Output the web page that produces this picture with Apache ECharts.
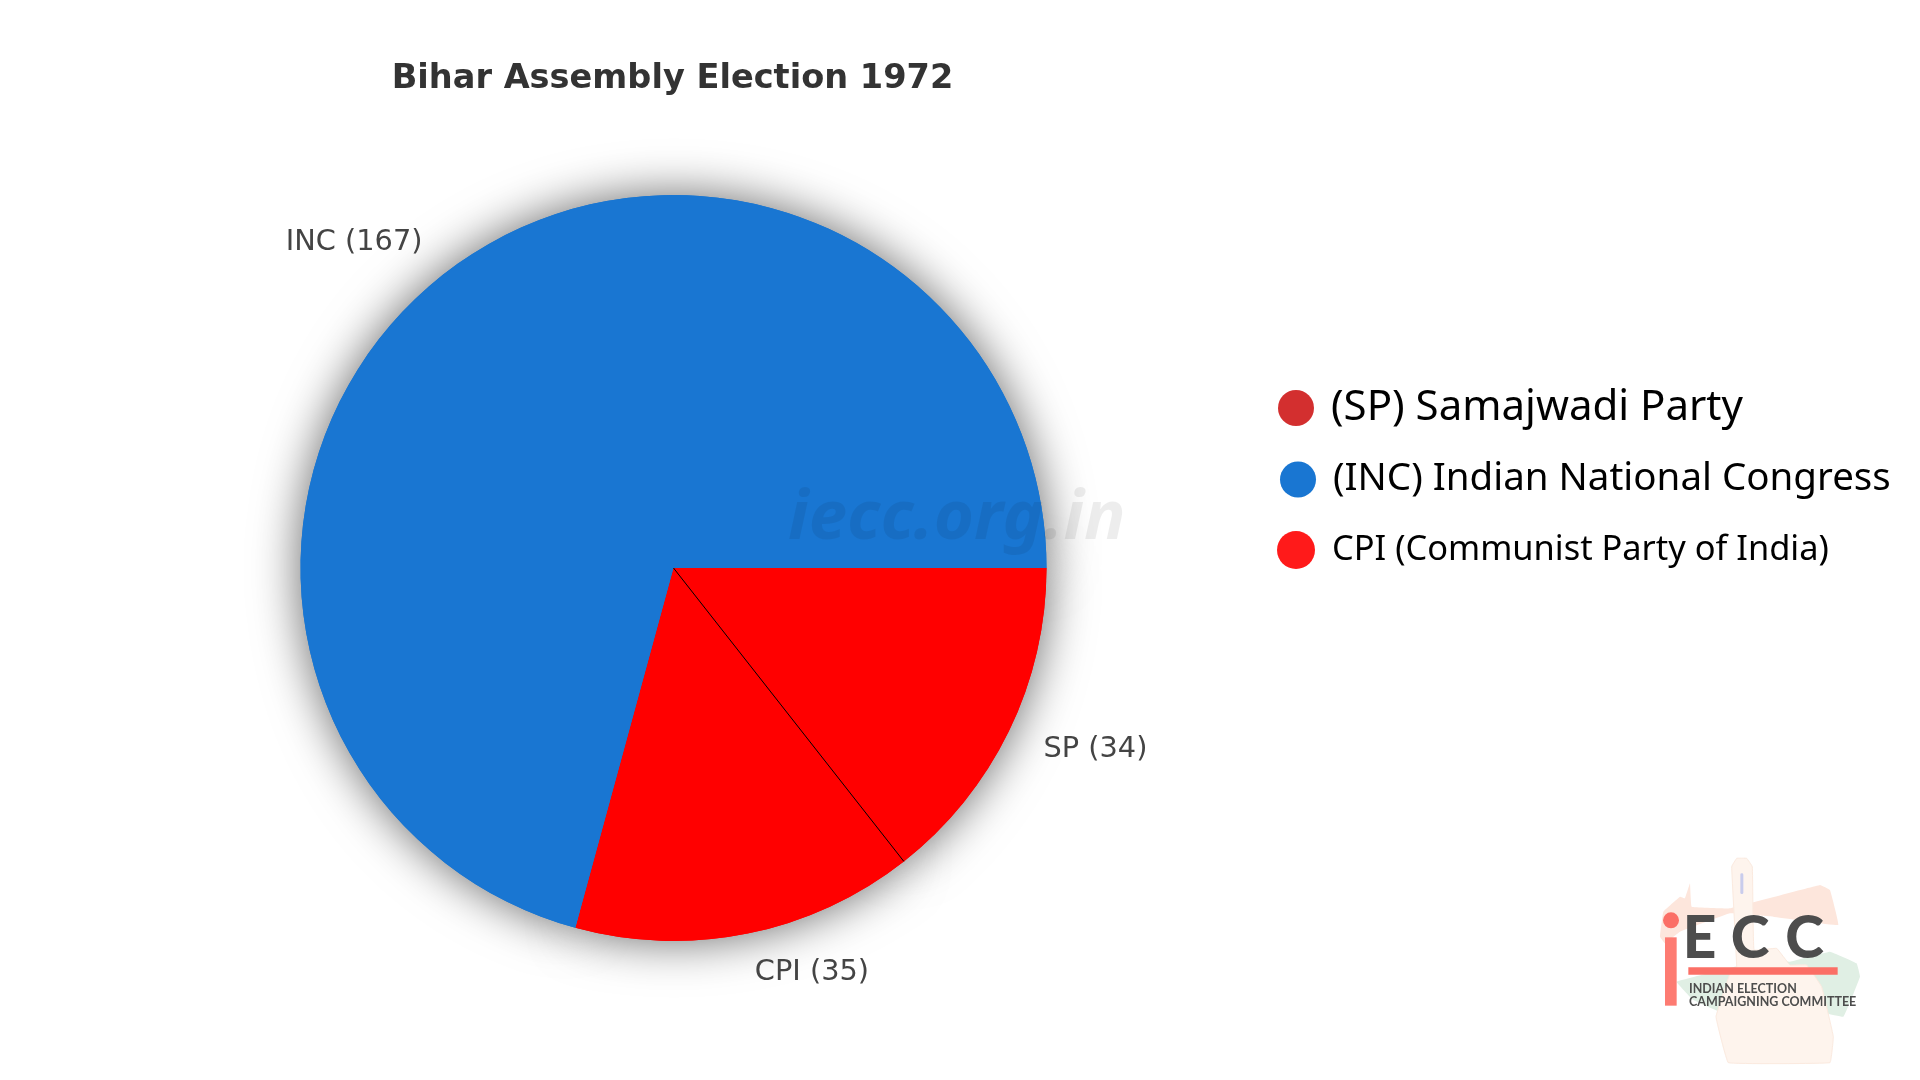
<!DOCTYPE html>
<html><head><meta charset="utf-8">
<style>html,body{margin:0;padding:0;background:#fff}#c{width:1920px;height:1080px}</style>
<script src="https://cdn.jsdelivr.net/npm/echarts@6/dist/echarts.min.js"></script>
</head><body><div id="c"></div>
<script>
const parties = ['SP', 'CPI', 'INC'];
const seats = [34, 35, 167];
const sliceColors = ['#ff0000', '#ff0000', '#1976d2'];
const legendOrder = ['SP', 'INC', 'CPI'];
const legendNames = ['(SP) Samajwadi Party', '(INC) Indian National Congress', 'CPI (Communist Party of India)'];
const legendColors = ['#d32f2f', '#1976d2', '#ff1a1a'];
const titleText = 'Bihar Assembly Election 1972';

const CX = 673.5, CY = 568, R = 373;
const total = seats.reduce((a, b) => a + b, 0);
const splitAngle = seats[0] / total * 2 * Math.PI;
const labelGap = [34, 37, 34];
const labelShift = [[-1, 4], [-5, 3], [1, -2]];

const chart = echarts.init(document.getElementById('c'), null, {renderer: 'canvas'});
const pieData = parties.map((p, i) => ({name: p, value: seats[i], itemStyle: {color: sliceColors[i]},
  labelLine: {show: false, length: labelGap[i], length2: 0}}));

const legendPos = [
  {left: 1278, top: 387, size: 36, font: 42, pad: 12, dy: -8},
  {left: 1280, top: 460, size: 36, font: 38.5, pad: 12, dy: -0.5},
  {left: 1277, top: 531, size: 38, font: 34.4, pad: 12, dy: -2}
];
const legends = legendOrder.map((p, i) => ({
  show: true, orient: 'vertical', selectedMode: false,
  left: legendPos[i].left, top: legendPos[i].top,
  itemWidth: legendPos[i].size, itemHeight: legendPos[i].size, padding: 0,
  icon: 'circle',
  data: [{name: p, itemStyle: {color: legendColors[i]}}],
  formatter: () => legendNames[i],
  textStyle: {fontFamily: '"Noto Sans"', fontSize: legendPos[i].font, color: '#000',
    padding: [0, 0, -2 * legendPos[i].dy, legendPos[i].pad]}
}));

const poly = (points, fill, stroke) => ({type: 'polygon', shape: {points, smooth: 0.05}, style: {fill, stroke: stroke || null, lineWidth: 3}, silent: true});
const txt = (text, x, y, size, weight) => ({type: 'text', x, y, silent: true,
  style: {text, fontFamily: 'Lato', fontSize: size, fontWeight: weight, fill: '#4d4d4d', textVerticalAlign: 'middle'}});

const logo = {type: 'group', x: 1630, y: 840, scaleX: 1 / 3, scaleY: 1 / 3, silent: true, children: [
  poly([[90,290],[100,215],[150,170],[165,175],[180,130],[185,200],[300,205],[570,135],[600,150],[625,255],[430,230],[300,220],[150,275],[105,310]], '#fde6dc'),
  poly([[140,425],[400,360],[480,365],[600,335],[680,370],[690,410],[640,530],[500,500],[340,545],[190,480]], '#e0efe4'),
  poly([[305,80],[320,55],[350,55],[367,80],[372,330],[440,325],[480,375],[530,375],[575,440],[610,590],[600,668],[295,668],[258,530],[300,400],[320,380]], '#fef4ed', '#fbeadf'),
  {type: 'rect', shape: {x: 331, y: 100, width: 9, height: 62, r: 4}, style: {fill: '#c9ccec'}},
  {type: 'circle', shape: {cx: 123, cy: 241, r: 24}, style: {fill: '#fb6f66'}},
  {type: 'rect', shape: {x: 105, y: 292, width: 35, height: 205}, style: {fill: '#fd7b72'}},
  {type: 'rect', shape: {x: 175, y: 382, width: 448, height: 22}, style: {fill: '#fb6f66'}},
  txt('E', 158, 298, 176, 900),
  txt('C', 302, 298, 176, 900),
  txt('C', 466, 298, 176, 900),
  txt('INDIAN ELECTION', 177, 447, 37.5, 700),
  txt('CAMPAIGNING COMMITTEE', 177, 487, 37.5, 700)
]};

chart.setOption({
  animation: false,
  backgroundColor: '#ffffff',
  title: {text: titleText, left: CX - 6, top: 57, textAlign: 'center',
    textStyle: {fontFamily: '"DejaVu Sans"', fontWeight: 'bold', fontSize: 33.6, color: '#333'}},
  legend: legends,
  series: [
    {type: 'pie', z: 1, silent: true, center: [CX, CY], radius: R, startAngle: 0, clockwise: true,
     label: {show: false}, labelLine: {show: false},
     itemStyle: {shadowBlur: 48, shadowColor: 'rgba(0,0,0,0.6)'},
     data: pieData},
    {type: 'pie', z: 2, center: [CX, CY], radius: R, startAngle: 0, clockwise: true,
     avoidLabelOverlap: false, silent: true,
     label: {show: true, position: 'outside', formatter: '{b} ({c})',
       fontFamily: '"DejaVu Sans"', fontSize: 28.8, color: '#444'},
     labelLayout: params => ({dx: labelShift[params.dataIndex][0], dy: labelShift[params.dataIndex][1]}),
     data: pieData}
  ],
  graphic: [
    {type: 'line', z: 50, silent: true,
     shape: {x1: CX, y1: CY, x2: CX + R * Math.cos(splitAngle), y2: CY + R * Math.sin(splitAngle)},
     style: {stroke: '#000', lineWidth: 1}},
    {type: 'text', z: 60, silent: true, x: 788, y: 519,
     style: {text: 'iecc.org.in', fontFamily: '"Noto Sans"', fontWeight: 'bold', fontStyle: 'italic', fontSize: 69,
       fill: 'rgba(0,0,0,0.07)', textVerticalAlign: 'middle'}},
    logo
  ]
});
</script></body></html>
